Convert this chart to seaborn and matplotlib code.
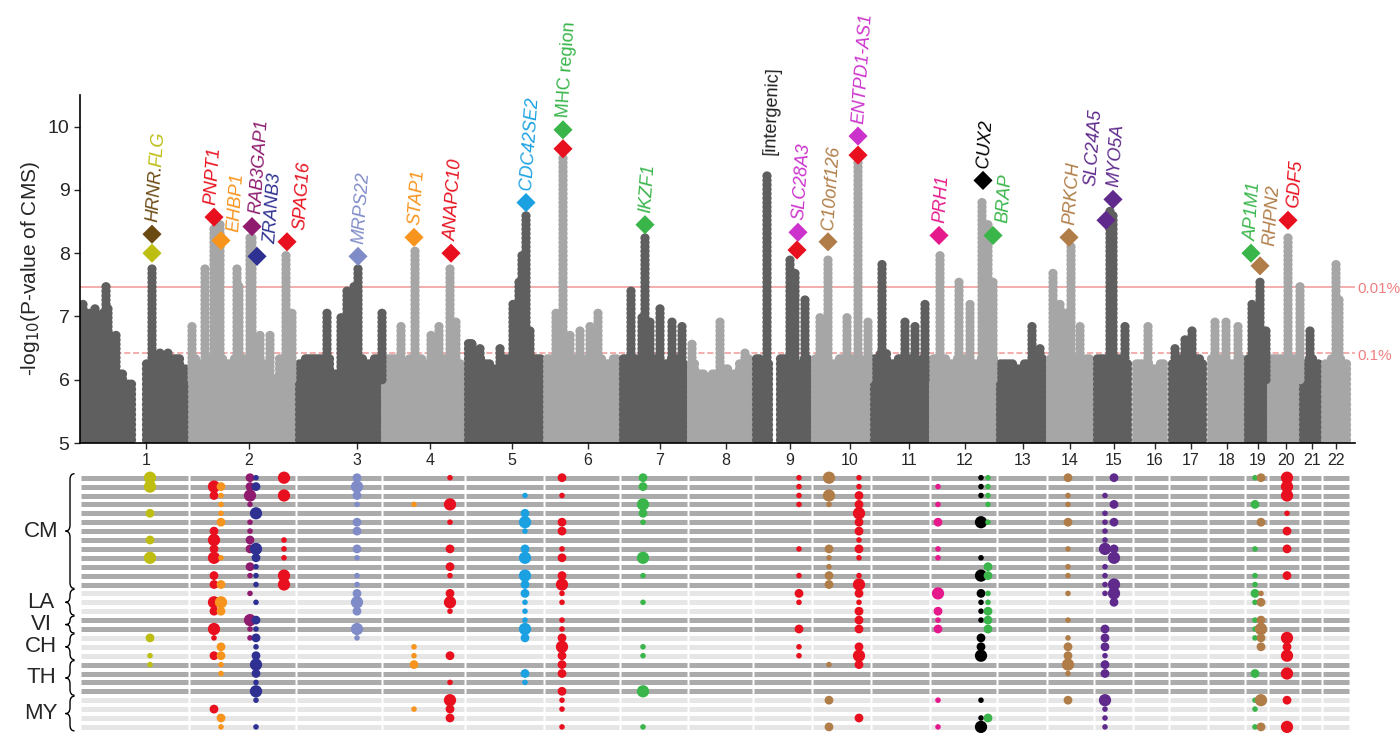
import numpy as np
import pandas as pd
import matplotlib
matplotlib.use("Agg")
import matplotlib.pyplot as plt
import seaborn as sns
from matplotlib.path import Path
from matplotlib.patches import PathPatch

sns.set_style("white")
plt.rcParams['font.family'] = ['Liberation Sans', 'DejaVu Sans']

# ---------------- data ----------------
chrom_bounds = [80, 189, 296, 382, 465, 544, 620, 688, 753, 812, 871, 930, 997,
                1047, 1094, 1133, 1169, 1208, 1245, 1268, 1300, 1322, 1350]
chrom_labels = [str(i) for i in range(1, 23)]
chrom_label_pos = [146, 249, 357, 430, 512, 588, 660, 726, 790, 850, 909, 965,
                   1023, 1070, 1114, 1155, 1191, 1227, 1258, 1286, 1312, 1336]
base_levels = [
    [6.35, 6.4, 6.4, 6.35, 6.15, 6.0, 5.0, 6.3, 6.4, 6.3, 6.35, 6.2],
    [6.35, 6.3, 6.4, 6.35, 6.3, 6.4, 6.35, 6.3, 6.25, 6.05, 6.4, 6.35],
    [6.3, 6.35, 6.35, 6.4, 6.15, 6.3, 6.4, 6.35, 6.3, 6.4],
    [6.4, 6.35, 6.3, 6.4, 6.35, 6.3, 6.4, 6.35, 6.4, 6.3],
    [6.6, 6.4, 6.3, 6.2, 6.35, 6.4, 6.3, 6.4, 6.35],
    [6.4, 6.35, 6.3, 6.4, 6.25, 6.35, 6.4, 6.3, 6.35],
    [6.35, 6.4, 6.3, 6.35, 6.4, 6.3, 6.35, 6.3],
    [6.3, 6.15, 6.05, 6.1, 6.2, 6.15, 6.25, 6.35],
    [6.35, 6.3, 5.0, 6.4, 6.35, 6.3, 6.35],
    [6.35, 6.4, 6.3, 6.4, 6.35, 6.4, 6.3],
    [6.4, 6.45, 6.3, 6.4, 6.35, 6.3, 6.4],
    [6.35, 6.4, 6.3, 6.4, 6.35, 6.3, 6.4, 6.35],
    [6.3, 6.25, 6.2, 6.25, 6.3, 6.35],
    [6.4, 6.35, 6.3, 6.4, 6.3, 6.35],
    [6.4, 6.4, 6.35, 6.4, 6.3],
    [6.25, 6.3, 6.2, 6.25],
    [6.3, 6.35, 6.3, 6.4, 6.3],
    [6.4, 6.35, 6.3, 6.35],
    [6.4, 6.4, 6.35],
    [6.35, 6.4, 6.3, 6.4],
    [6.3, 6.35, 6.3],
    [6.3, 6.35, 6.3],
]
spike_pos = [83, 86, 90, 95, 100, 103, 106, 108, 110, 116, 152, 160, 168,
             192, 205, 214, 217, 220, 237, 239, 250, 252, 260, 270, 286, 292,
             327, 341, 347, 354, 358, 382,
             401, 415, 431, 439, 450, 456,
             472, 480, 500, 513, 519, 522, 526, 530,
             556, 563, 570, 580, 590, 598,
             631, 642, 645, 650, 660, 672, 682,
             692, 720, 745,
             767, 790, 795, 805,
             820, 828, 847, 858, 868,
             882, 905, 915, 925,
             940, 959, 970, 982, 988, 993,
             1032, 1040,
             1053, 1060, 1066, 1071, 1080,
             1110, 1113, 1125,
             1148,
             1175, 1185, 1192,
             1215, 1226, 1238,
             1252, 1260, 1266,
             1288, 1300,
             1310,
             1336, 1339]
spike_top = [7.2, 7.05, 7.1, 7.15, 7.0, 7.1, 7.5, 7.15, 6.7, 6.7, 7.75, 6.45, 6.45,
             6.9, 7.75, 8.4, 8.05, 8.45, 7.75, 7.5, 8.3, 8.25, 6.75, 6.75, 8.0, 7.1,
             7.1, 7.0, 7.4, 7.5, 7.75, 7.05,
             6.85, 8.05, 6.7, 6.9, 7.8, 6.95,
             6.6, 6.55, 6.5, 7.2, 7.6, 8.0, 8.6, 6.8,
             7.05, 9.55, 6.7, 6.8, 6.85, 7.05,
             7.4, 7.0, 8.3, 6.95, 7.15, 6.95, 6.9,
             6.6, 6.95, 6.45,
             9.25, 7.9, 7.7, 7.3,
             7.0, 7.95, 7.0, 9.6, 6.95,
             7.85, 6.95, 6.9, 7.2,
             8.0, 7.55, 7.2, 8.85, 8.45, 7.6,
             6.9, 6.5,
             7.7, 7.2, 7.05, 8.1, 6.85,
             8.7, 8.6, 6.9,
             6.9,
             6.5, 6.65, 6.8,
             6.95, 6.95, 6.9,
             7.2, 7.55, 6.8,
             8.3, 7.5,
             6.8,
             7.85, 7.3]

gene_labels = ["HRNR.", "FLG", "PNPT1", "EHBP1", "RAB3GAP1", "ZRANB3", "SPAG16", "MRPS22",
               "STAP1", "ANAPC10", "CDC42SE2", "MHC region", "IKZF1", "SLC28A3",
               "C10orf126", "ENTPD1-AS1", "PRH1", "CUX2", "BRAP", "PRKCH", "SLC24A5",
               "MYO5A", "AP1M1", "RHPN2", "GDF5"]
gene_pos = [152, 152, 214, 221, 252, 257, 287, 358, 414, 451, 526, 563, 645, 798,
            828, 858, 939, 983, 993, 1069, 1106, 1113, 1251, 1260, 1288]
gene_val = [8.3, 8.0, 8.57, 8.2, 8.42, 7.95, 8.18, 7.95, 8.25, 8.0, 8.8, 9.95, 8.45,
            8.33, 8.18, 9.85, 8.28, 9.15, 8.28, 8.25, 8.52, 8.85, 8.0, 7.8, 8.52]
gene_color = ["#6B4A12", "#BDBD12", "#E8101E", "#F7941D", "#8E1B6E", "#2E3192",
              "#E8101E", "#7F8CC8", "#F7941D", "#E8101E", "#1BA1E2", "#39B54A",
              "#39B54A", "#CC33CC", "#B07D48", "#CC33CC", "#E6198C", "#000000",
              "#39B54A", "#B07D48", "#5F2A8C", "#5F2A8C", "#39B54A", "#B07D48",
              "#E8101E"]
# label shifts in pixels (right, up) relative to the diamond
label_dx = [0, 0, -4, 12, 3, 13, 12, 0, 0, 0, 0, 0, 0, 0, 0, 0, 0, 0, 9, 0, -16, 0, 0, 9, 5]
label_dy = [0, 0, 0, -4, 0, 0, 0, 0, 0, 0, 0, 0, 0, 0, 0, 0, 0, 0, 0, 0, 22, 0, 0, 8, 0]
extra_pos = [563, 797, 858]
extra_val = [9.65, 8.05, 9.55]
extra_color = ["#E8101E", "#E8101E", "#E8101E"]
intergenic_pos, intergenic_val = 770, 9.55

thr_vals = [7.47, 6.42]
thr_labels = ["0.01%", "0.1%"]

groups = ["CM", "LA", "VI", "CH", "TH", "MY"]
group_rows = [13, 3, 2, 3, 4, 4]

col_pos = [150, 214, 221, 250, 256, 284, 357, 414, 450, 525, 562, 643, 799, 829,
           859, 938, 981, 988, 1068, 1105, 1114, 1255, 1261, 1287]
col_color = ["#BDBD12", "#E8101E", "#F7941D", "#8E1B6E", "#2E3192", "#E8101E",
             "#7F8CC8", "#F7941D", "#E8101E", "#1BA1E2", "#E8101E", "#39B54A",
             "#E8101E", "#B07D48", "#E8101E", "#E6198C", "#000000", "#39B54A",
             "#B07D48", "#5F2A8C", "#5F2A8C", "#39B54A", "#B07D48", "#E8101E"]
col_dots = [
    "0:3 1:3 4:2 7:2 9:3 18:2 20:1 21:1",
    "1:3 2:2 6:2 7:3 8:2 9:3 11:2 12:2 14:3 15:2 17:3 18:1 20:2 26:2",
    "1:2 2:1 3:1 4:1 5:2 9:1 12:2 14:3 15:2 19:2 20:2 21:1 22:1 27:2 28:1",
    "0:2 1:2 2:3 3:1 5:1 6:1 7:2 8:2 10:2 11:1 13:1 16:3 17:1 18:1",
    "0:1 1:2 4:3 8:3 9:2 10:1 11:1 12:1 14:1 16:2 17:1 18:2 19:1 20:2 21:3 22:2 23:1 24:3 25:1 28:1",
    "0:3 2:3 7:1 8:1 9:1 11:3 12:3",
    "0:2 1:3 2:2 3:1 5:2 6:2 8:2 9:1 11:1 12:1 13:2 14:3 15:2 17:3 18:1",
    "3:1 19:1 20:1 21:2 26:1",
    "0:1 3:3 5:1 8:2 10:2 11:1 13:2 14:3 15:1 20:2 23:1 25:3 26:2 27:2",
    "2:1 4:2 5:3 6:1 8:2 9:3 11:3 12:2 13:2 14:1 15:1 16:1 17:3 18:2 22:2 23:1",
    "0:2 2:1 5:2 6:2 8:1 9:2 11:2 12:3 13:1 14:1 16:1 17:1 18:2 19:3 20:2 21:2 22:2 24:2 25:1 26:1 28:1",
    "0:2 1:2 3:3 4:2 5:1 9:3 11:1 14:1 19:1 20:1 24:3 28:1",
    "0:1 1:1 2:1 3:1 8:1 11:1 13:2 14:1 17:2 19:1 20:1",
    "0:3 2:3 3:1 8:2 9:1 10:1 11:2 12:2 21:1 25:2 28:2",
    "0:1 1:1 2:2 3:2 4:3 5:2 6:2 7:1 8:2 9:1 11:1 12:3 13:2 14:1 15:2 16:2 17:2 19:2 20:3 21:2 27:2",
    "1:1 3:1 5:2 8:1 9:1 13:3 15:2 16:1 17:2 25:1 28:1",
    "0:1 1:1 2:1 5:3 9:1 11:3 13:2 14:1 15:1 16:1 18:2 19:2 20:3 25:1 27:1 28:3",
    "0:1 1:1 2:1 3:1 5:1 10:2 11:2 13:1 14:1 15:2 16:2 17:2 27:2",
    "0:2 2:1 3:1 5:2 8:1 10:1 11:1 13:1 16:1 18:1 19:2 20:2 21:3 22:1 25:2",
    "2:1 4:1 5:1 6:1 7:1 8:3 10:1 11:1 12:1 13:1 17:2 18:2 19:2 20:1 21:2 22:2 25:3 26:1 27:1 28:1",
    "0:2 3:2 5:2 8:2 9:3 12:3 13:3 14:2",
    "0:1 3:2 8:1 11:1 12:1 13:2 14:1 16:1 17:1 18:1 22:2 25:1 26:1 28:1",
    "0:2 5:2 13:1 14:2 16:2 17:3 18:2 19:2 25:3 28:2",
    "0:3 1:3 2:3 4:1 6:2 8:2 11:2 18:3 19:2 20:3 22:3 25:2 28:3",
]

# ---------------- figure ----------------
W, H = 1400, 748
fig = plt.figure(figsize=(W / 100, H / 100), dpi=100)
ax = fig.add_axes([80 / W, 1 - 443 / H, 1275 / W, 348 / H])
XL = (80, 1355)

xs, ys, shade = [], [], []
for i in range(22):
    a, b = chrom_bounds[i], chrom_bounds[i + 1]
    lv = base_levels[i]
    n = len(lv)
    for x in np.arange(a + 3.5, b - 2.5, 3.0):
        j = min(int((x - a) / (b - a) * n), n - 1)
        top = lv[j]
        if top <= 5.0:
            continue
        for y in np.arange(5.05, top, 0.08):
            xs.append(x); ys.append(y); shade.append(i % 2)
for x, t in zip(spike_pos, spike_top):
    i = np.searchsorted(chrom_bounds, x) - 1
    for y in np.arange(6.0, t + 0.001, 0.07):
        xs.append(x); ys.append(y); shade.append(i % 2)
mdf = pd.DataFrame({"x": xs, "y": ys, "s": shade})
sns.scatterplot(data=mdf, x="x", y="y", hue="s", palette={0: "#5F5F5F", 1: "#A6A6A6"},
                s=44, linewidth=0, legend=False, ax=ax, zorder=2)

for v, st in zip(thr_vals, ["-", "--"]):
    ax.axhline(v, color="#F2A0A0", lw=1.2, ls=st, zorder=1)
for v, lab in zip(thr_vals, thr_labels):
    ax.text(1357, v - 0.04, lab, color="#F08080", fontsize=11, va="center", clip_on=False)

gdf = pd.DataFrame({"x": gene_pos + extra_pos, "y": gene_val + extra_val,
                    "c": gene_color + extra_color})
sns.scatterplot(data=gdf, x="x", y="y", hue="c", palette={c: c for c in set(gdf.c)},
                marker="D", s=95, linewidth=0, legend=False, ax=ax, zorder=4)

ROT = 86
dx, dy = np.cos(np.radians(ROT)), np.sin(np.radians(ROT))
for k, (lab, x, y, c) in enumerate(zip(gene_labels, gene_pos, gene_val, gene_color)):
    off = 9
    if lab == "FLG":
        y = gene_val[0]
        off = 9 + 40
    style = "normal" if lab == "MHC region" else "italic"
    ox = off * dx + label_dx[k] * 0.72
    oy = off * dy + label_dy[k] * 0.72
    ax.annotate(lab, (x, y), xytext=(ox, oy), textcoords="offset points",
                rotation=ROT, rotation_mode="anchor", ha="left", va="center",
                color=c, fontsize=13, style=style, annotation_clip=False, zorder=5)
ax.annotate("[intergenic]", (intergenic_pos, intergenic_val), xytext=(0, 0),
            textcoords="offset points", rotation=ROT + 2, rotation_mode="anchor",
            ha="left", va="center", color="#222222", fontsize=13, annotation_clip=False)

ax.set_xlim(*XL)
ax.set_ylim(5, 10.5)
ax.set_yticks([5, 6, 7, 8, 9, 10])
ax.set_xticks(chrom_label_pos)
ax.set_xticklabels(chrom_labels, fontsize=11.5)
ax.tick_params(axis="y", labelsize=14, length=4, width=1, left=True)
ax.tick_params(axis="x", length=4, width=1, bottom=True, pad=3)
ax.set_xlabel("")
ax.set_ylabel("-log$_{10}$(P-value of CMS)", fontsize=15)
for sp in ["top", "right"]:
    ax.spines[sp].set_visible(False)
for sp in ["left", "bottom"]:
    ax.spines[sp].set_color("black")
    ax.spines[sp].set_linewidth(1.2)

# ---------------- bottom panel ----------------
nrows = sum(group_rows)
row0_px, row_step = 477.7, 8.9
top_px = row0_px - 0.8 * row_step
bot_px = row0_px + (nrows - 1 + 0.8) * row_step
bx = fig.add_axes([80 / W, 1 - bot_px / H, 1275 / W, (bot_px - top_px) / H])
bx.set_xlim(*XL)
bx.set_ylim(nrows - 1 + 0.8, -0.8)
bx.axis("off")

row_shade = []
for gi, n in enumerate(group_rows):
    row_shade += [gi % 2] * n
for r in range(nrows):
    col = "#ABABAB" if row_shade[r] == 0 else "#E6E6E6"
    for i in range(22):
        bx.hlines(r, chrom_bounds[i] + 1.2, chrom_bounds[i + 1] - 1.2, color=col, lw=3.6, zorder=1)

px_, py_, pc_, ps_ = [], [], [], []
for x, c, spec in zip(col_pos, col_color, col_dots):
    for tok in spec.split():
        r, s = tok.split(":")
        px_.append(x); py_.append(int(r)); pc_.append(c); ps_.append(int(s))
ddf = pd.DataFrame({"x": px_, "y": py_, "c": pc_, "s": ps_})
sns.scatterplot(data=ddf, x="x", y="y", hue="c", palette={c: c for c in set(pc_)},
                size="s", sizes={1: 16, 2: 40, 3: 78}, linewidth=0, legend=False,
                ax=bx, zorder=3)
bx.set_xlabel(""); bx.set_ylabel("")

def fpt(xp, yp):
    return (xp / W, 1 - yp / H)

r = 0
for g, n in zip(groups, group_rows):
    y1 = row0_px + (r - 0.45) * row_step
    y2 = row0_px + (r + n - 1 + 0.45) * row_step
    ym = (y1 + y2) / 2
    xc, w = 70, 4.5
    rr = min(6, (y2 - y1) / 4)
    verts = [(xc + w, y1), (xc, y1), (xc, y1 + rr), (xc, ym - rr), (xc, ym), (xc - w, ym),
             (xc, ym), (xc, ym + rr), (xc, y2 - rr), (xc, y2), (xc + w, y2)]
    codes = [Path.MOVETO, Path.CURVE3, Path.CURVE3, Path.LINETO, Path.CURVE3, Path.CURVE3,
             Path.CURVE3, Path.CURVE3, Path.LINETO, Path.CURVE3, Path.CURVE3]
    verts = [fpt(*v) for v in verts]
    fig.add_artist(PathPatch(Path(verts, codes), fill=False, lw=1.0, ec="black",
                             transform=fig.transFigure))
    fig.text(41 / W, 1 - ym / H, g, fontsize=16, ha="center", va="center")
    r += n

fig.savefig("out.png", dpi=100)
